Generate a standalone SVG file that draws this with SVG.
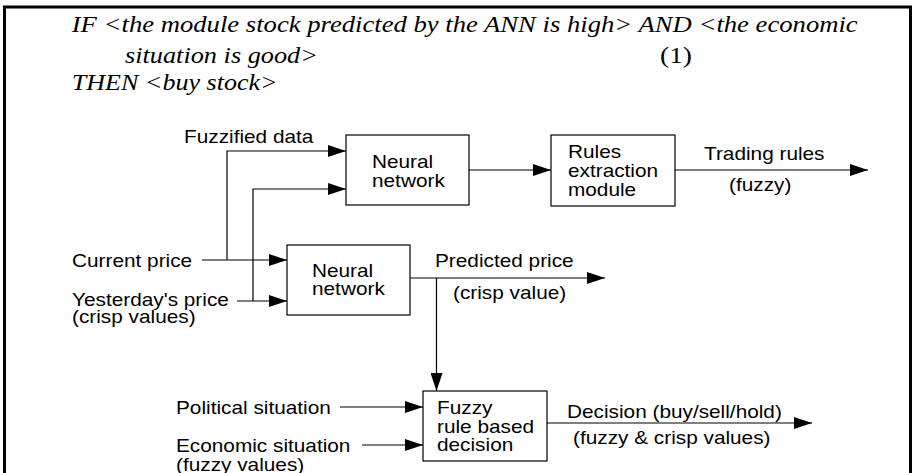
<svg xmlns="http://www.w3.org/2000/svg" width="912" height="473" viewBox="0 0 912 473">
  <defs>
    <marker id="arrow" markerUnits="userSpaceOnUse" markerWidth="18" markerHeight="12" refX="18" refY="6" orient="auto">
      <path d="M0,0 L18,6 L0,12 Z" fill="#000"/>
    </marker>
    <style>
      .frame { fill: none; stroke: #000; stroke-width: 3; }
      .box { fill: #fff; stroke: #000; stroke-width: 1.2; }
      .wire { fill: none; stroke: #000; stroke-width: 1.2; }
      .arr { marker-end: url(#arrow); }
      .sans { font-family: "Liberation Sans", Arial, sans-serif; font-size: 18px; fill: #000; }
      .rule { font-family: "Liberation Serif", "Times New Roman", serif; font-style: italic; font-size: 23.5px; fill: #000; }
      .num { font-family: "Liberation Serif", "Times New Roman", serif; font-size: 23.5px; fill: #000; }
    </style>
  </defs>

  <!-- open frame (no bottom edge) -->
  <path class="frame" d="M4.5,473 V7 H910.5 V473"/>

  <!-- rule statement -->
  <g id="rule-text">
    <text class="rule" x="71.7" y="32" textLength="786" lengthAdjust="spacingAndGlyphs">IF &lt;the module stock predicted by the ANN is high&gt; AND &lt;the economic</text>
    <text class="rule" x="125" y="63" textLength="193" lengthAdjust="spacingAndGlyphs">situation is good&gt;</text>
    <text class="num" x="660" y="63" textLength="32" lengthAdjust="spacingAndGlyphs">(1)</text>
    <text class="rule" x="71.7" y="90" textLength="206" lengthAdjust="spacingAndGlyphs">THEN &lt;buy stock&gt;</text>
  </g>

  <!-- connectors -->
  <g id="connectors">
    <path class="wire arr" d="M202,260 H287"/>
    <path class="wire arr" d="M227,260 V151 H346"/>
    <path class="wire arr" d="M237,301 H287"/>
    <path class="wire arr" d="M253,301 V189 H346"/>
    <path class="wire arr" d="M469,170 H551"/>
    <path class="wire arr" d="M675,170 H868"/>
    <path class="wire arr" d="M410,278 H605"/>
    <path class="wire arr" d="M436.5,278 V391"/>
    <path class="wire arr" d="M340,407 H423"/>
    <path class="wire arr" d="M362,445 H423"/>
    <path class="wire arr" d="M547,423 H812"/>
  </g>

  <!-- nodes -->
  <g id="nn-fuzzy">
    <rect class="box" x="346" y="135" width="123" height="70"/>
    <text class="sans" transform="translate(372,168) scale(1.155,1)">Neural</text>
    <text class="sans" transform="translate(372,187) scale(1.155,1)">network</text>
  </g>
  <g id="rules-extraction">
    <rect class="box" x="551" y="135" width="124" height="71"/>
    <text class="sans" transform="translate(568,158) scale(1.155,1)">Rules</text>
    <text class="sans" transform="translate(568,177) scale(1.155,1)">extraction</text>
    <text class="sans" transform="translate(568,196) scale(1.155,1)">module</text>
  </g>
  <g id="nn-crisp">
    <rect class="box" x="287" y="245" width="123" height="70"/>
    <text class="sans" transform="translate(312,277) scale(1.155,1)">Neural</text>
    <text class="sans" transform="translate(312,295) scale(1.155,1)">network</text>
  </g>
  <g id="fuzzy-decision">
    <rect class="box" x="423" y="391" width="124" height="70"/>
    <text class="sans" transform="translate(437,414) scale(1.155,1)">Fuzzy</text>
    <text class="sans" transform="translate(437,433) scale(1.155,1)">rule based</text>
    <text class="sans" transform="translate(437,451) scale(1.155,1)">decision</text>
  </g>

  <!-- signal labels -->
  <g id="labels">
    <text class="sans" transform="translate(184,143) scale(1.155,1)">Fuzzified data</text>
    <text class="sans" transform="translate(704,160) scale(1.155,1)">Trading rules</text>
    <text class="sans" transform="translate(729,191) scale(1.155,1)">(fuzzy)</text>
    <text class="sans" transform="translate(72,267) scale(1.155,1)">Current price</text>
    <text class="sans" transform="translate(435,267) scale(1.155,1)">Predicted price</text>
    <text class="sans" transform="translate(453,299) scale(1.155,1)">(crisp value)</text>
    <text class="sans" transform="translate(72,306) scale(1.155,1)">Yesterday's price</text>
    <text class="sans" transform="translate(72,323) scale(1.155,1)">(crisp values)</text>
    <text class="sans" transform="translate(176,414) scale(1.155,1)">Political situation</text>
    <text class="sans" transform="translate(176,452) scale(1.155,1)">Economic situation</text>
    <text class="sans" transform="translate(176,471) scale(1.155,1)">(fuzzy values)</text>
    <text class="sans" transform="translate(567,418) scale(1.155,1)">Decision (buy/sell/hold)</text>
    <text class="sans" transform="translate(573,444) scale(1.155,1)">(fuzzy &amp; crisp values)</text>
  </g>
</svg>
